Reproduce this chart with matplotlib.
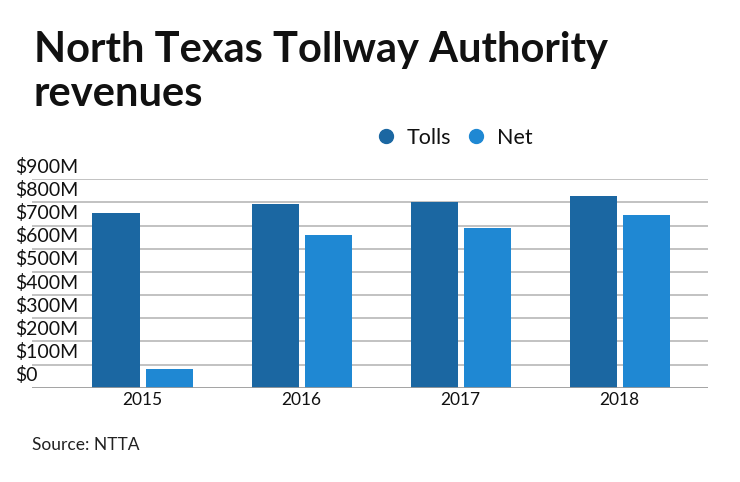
import matplotlib
matplotlib.use("Agg")
import matplotlib.pyplot as plt
from matplotlib.lines import Line2D
from matplotlib.transforms import blended_transform_factory, ScaledTranslation
import numpy as np

years = ["2015", "2016", "2017", "2018"]
tolls = [755, 794, 803, 828]
net = [81, 658, 690, 744]
ytick_vals = [0, 100, 200, 300, 400, 500, 600, 700, 800, 900]
ytick_labels = ["$0", "$100M", "$200M", "$300M", "$400M", "$500M",
                "$600M", "$700M", "$800M", "$900M"]
series_names = ["Tolls", "Net"]
colors = ["#1b67a2", "#1f88d3"]

plt.rcParams['font.family'] = ['Lato', 'DejaVu Sans']

W, H = 740, 482
fig = plt.figure(figsize=(W / 100, H / 100), dpi=100)
left, right = 32 / W, 707.7 / W
bottom, top = 1 - 387.7 / H, 1 - 179.3 / H
ax = fig.add_axes([left, bottom, right - left, top - bottom])

x = np.arange(len(years))
bw = 0.296
off = 0.1667
ax.bar(x - off, tolls, bw, color=colors[0], zorder=3)
ax.bar(x + off, net, bw, color=colors[1], zorder=3)

ax.set_xlim(-0.695, 3.553)
ax.set_ylim(0, 900)

for s in ax.spines.values():
    s.set_visible(False)
ax.set_yticks([])
ax.set_xticks(x)
ax.set_xticklabels(years, fontsize=12.5, color="#111111")
ax.tick_params(axis='x', length=0, pad=3)

for v in ytick_vals[1:]:
    ax.axhline(v, color="#c2c2c2", lw=1.4, zorder=1)
ax.axhline(0, color="#9a9a9a", lw=2, zorder=4)

trans = blended_transform_factory(fig.transFigure, ax.transData) + \
    ScaledTranslation(0, 2.5 / 72, fig.dpi_scale_trans)
for v, lab in zip(ytick_vals, ytick_labels):
    ax.text(15 / W, v, lab, transform=trans, ha='left', va='bottom',
            fontsize=14, color="#111111", zorder=5)

fig.text(34 / W, 1 - 62 / H, "North Texas Tollway Authority",
         fontsize=30, fontweight='bold', color="#111111", ha='left', va='baseline')
fig.text(34 / W, 1 - 106 / H, "revenues",
         fontsize=30, fontweight='bold', color="#111111", ha='left', va='baseline')

# legend
leg_items = [(385.7, 406.7), (476, 496.7)]
for (mx, tx), name, c in zip(leg_items, series_names, colors):
    fig.add_artist(Line2D([mx / W], [1 - 136 / H], marker='o', markersize=10,
                          color=c, linestyle='none', transform=fig.transFigure))
    fig.text(tx / W, 1 - 144 / H, name, fontsize=15.5, color="#111111",
             ha='left', va='baseline')

fig.text(32 / W, 1 - 450 / H, "Source: NTTA", fontsize=12.5, color="#222222",
         ha='left', va='baseline')

fig.savefig("out.png", dpi=100)
